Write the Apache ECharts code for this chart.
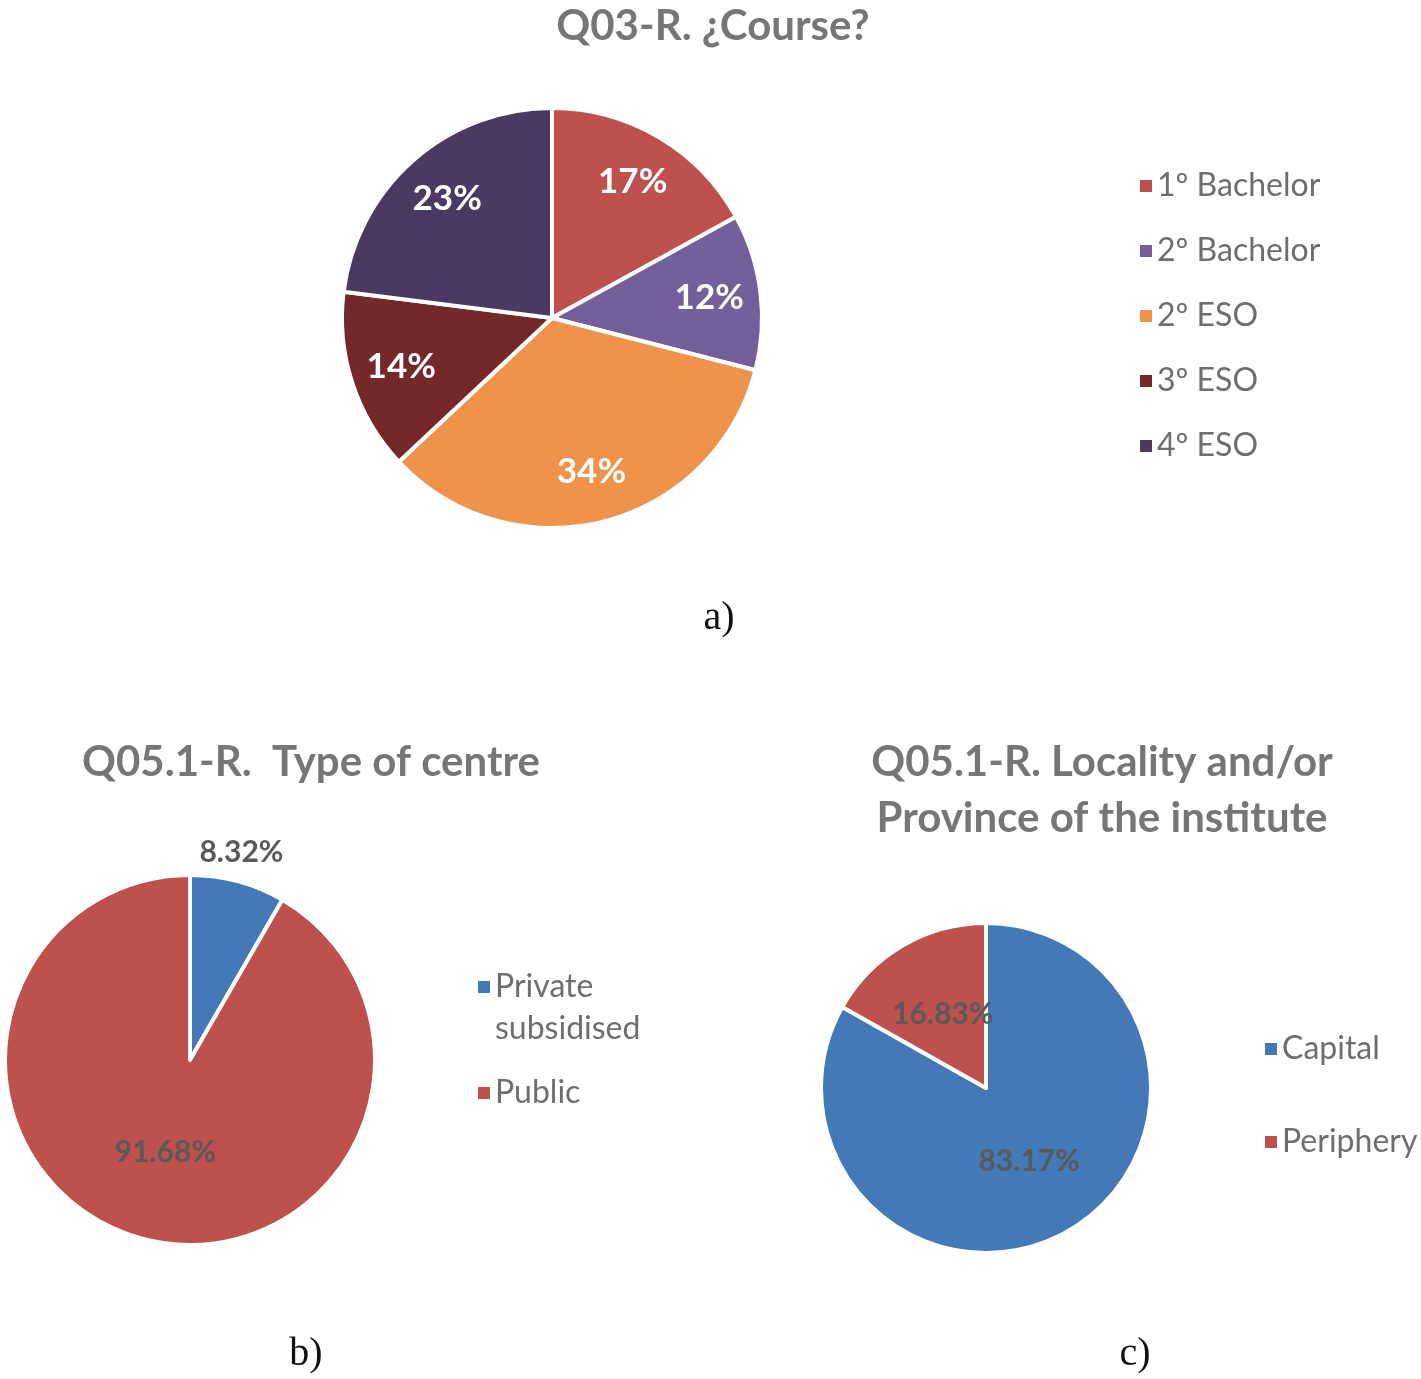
<!DOCTYPE html>
<html>
<head>
<meta charset="utf-8">
<script src="https://cdn.jsdelivr.net/npm/echarts@6/dist/echarts.min.js"></script>
<style>
  html, body { margin: 0; padding: 0; background: #fff; }
  #main { width: 1421px; height: 1379px; }
</style>
</head>
<body>
<div id="main"></div>
<script>
// 数据
var courseNames = ['1º Bachelor', '2º Bachelor', '2º ESO', '3º ESO', '4º ESO']
var courseValues = [17, 12, 34, 14, 23]
var courseColors = ['#BE504E', '#73609A', '#EF924C', '#74282A', '#4A3A62']

var centreNames = ['Private subsidised', 'Public']
var centreValues = [8.32, 91.68]
var centreColors = ['#4479B7', '#BE504E']

var localityNames = ['Capital', 'Periphery']
var localityValues = [83.17, 16.83]
var localityColors = ['#4479B7', '#BE504E']

var titles = ['Q03-R. ¿Course?', 'Q05.1-R.  Type of centre', 'Q05.1-R. Locality and/or\nProvince of the institute']
var captions = ['a)', 'b)', 'c)']

function toData(names, values, colors) {
  var list = []
  for (var i = 0; i < names.length; i++) {
    list.push({ name: names[i], value: values[i], itemStyle: { color: colors[i] } })
  }
  return list
}

var dom = document.getElementById('main');
var myChart = echarts.init(dom);

var font = 'Lato, "Open Sans", sans-serif'
var titleStyle = { fontFamily: font, fontSize: 42, fontWeight: 'bold', color: '#767676', lineHeight: 56 }
var captionStyle = { fontFamily: '"Liberation Serif", "DejaVu Serif", serif', fontSize: 40, fontWeight: 'normal', color: '#111', lineHeight: 48 }
var legendText = { fontFamily: font, fontSize: 32, color: '#6E6E6E', lineHeight: 36 }
var grayLabel = {
  fontFamily: font, fontSize: 30, fontWeight: 'bold', color: '#595959',
  formatter: function (p) { return p.value.toFixed(2) + '%' }
}

var option = {
  animation: false,
  title: [
    { text: titles[0], left: 708, top: -7, textAlign: 'center', textStyle: titleStyle },
    { text: titles[1], left: 306, top: 729, textAlign: 'center', textStyle: titleStyle },
    { text: titles[2], left: 1097, top: 729, textAlign: 'center', textStyle: titleStyle },
    { text: captions[0], left: 714, top: 589, textAlign: 'center', textStyle: captionStyle },
    { text: captions[1], left: 301, top: 1325, textAlign: 'center', textStyle: captionStyle },
    { text: captions[2], left: 1130, top: 1325, textAlign: 'center', textStyle: captionStyle }
  ],
  legend: [
    {
      orient: 'vertical', left: 1135, top: 163, itemGap: 29,
      icon: 'rect', itemWidth: 12, itemHeight: 12, itemStyle: { borderWidth: 0 },
      textStyle: legendText, data: courseNames, selectedMode: false
    },
    {
      orient: 'vertical', left: 473, top: 919, itemGap: 22,
      icon: 'rect', itemWidth: 12, itemHeight: 12, itemStyle: { borderWidth: 0 },
      textStyle: { fontFamily: font, fontSize: 32, color: '#6E6E6E', lineHeight: 42 },
      // 两行的图例项：前面加空行，让图标对齐首行
      formatter: function (name) {
        return name.indexOf(' ') > 0 ? '\n' + name.replace(' ', '\n') : name
      },
      data: centreNames,
      selectedMode: false
    },
    {
      orient: 'vertical', left: 1260, top: 1026, itemGap: 57,
      icon: 'rect', itemWidth: 12, itemHeight: 12, itemStyle: { borderWidth: 0 },
      textStyle: legendText, data: localityNames, selectedMode: false
    }
  ],
  series: [
    {
      type: 'pie',
      center: [552, 318],
      radius: [0, 210],
      startAngle: 90,
      itemStyle: { borderColor: '#fff', borderWidth: 4 },
      label: { show: false },
      labelLine: { show: false },
      data: toData(courseNames, courseValues, courseColors)
    },
    {
      // 透明环，只用来放标签
      type: 'pie',
      center: [552, 318],
      radius: [101, 210],
      startAngle: 90,
      silent: true,
      itemStyle: { color: 'transparent', borderWidth: 0 },
      label: {
        position: 'inside',
        fontFamily: font, fontSize: 35, fontWeight: 'bold', color: '#fff',
        formatter: function (p) { return p.value + '%' }
      },
      labelLine: { show: false },
      emphasis: { disabled: true },
      data: courseNames.map(function (n, i) { return { name: n, value: courseValues[i] } })
    },
    {
      type: 'pie',
      center: [190, 1060],
      radius: [0, 185],
      startAngle: 90,
      itemStyle: { borderColor: '#fff', borderWidth: 4 },
      label: Object.assign({ position: 'inside' }, grayLabel),
      labelLine: { show: false, length: 14, length2: 0 },
      labelLayout: function (params) {
        if (params.dataIndex === 0) {
          return { align: 'center', verticalAlign: 'bottom' }
        }
      },
      data: toData(centreNames, centreValues, centreColors).map(function (d, i) {
        if (i === 0) d.label = { position: 'outside', distanceToLabelLine: 0 }
        return d
      })
    },
    {
      type: 'pie',
      center: [986, 1088],
      radius: [0, 165],
      startAngle: 90,
      itemStyle: { borderColor: '#fff', borderWidth: 4 },
      label: Object.assign({ position: 'inside' }, grayLabel),
      labelLine: { show: false },
      data: toData(localityNames, localityValues, localityColors)
    }
  ]
};

if (option && typeof option === 'object') {
  myChart.setOption(option);
}

window.addEventListener('resize', myChart.resize);
</script>
</body>
</html>
